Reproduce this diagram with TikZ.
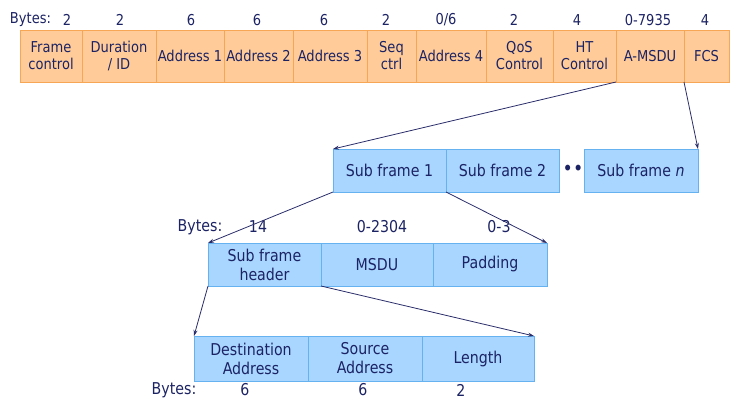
\documentclass[tikz,border=0pt]{standalone}
\usepackage{fontspec}
\setmainfont[FakeStretch=0.87]{DejaVu Sans}
\usepackage{tikz}
\usetikzlibrary{arrows.meta}
\definecolor{txt}{HTML}{1C2364}
\definecolor{macfill}{HTML}{FFCC99}
\definecolor{macline}{HTML}{F7A656}
\definecolor{subfill}{HTML}{A8D6FF}
\definecolor{subline}{HTML}{66B2F0}
\definecolor{linkc}{HTML}{2A2D6A}

\begin{document}
\begin{tikzpicture}[x=1pt, y=-1pt,
	font=\fontsize{15}{17}\selectfont, text=txt,
	mac/.style={draw=macline, fill=macfill, line width=0.8pt, inner sep=0pt, outer sep=0pt, align=center, minimum height=52pt},
	sub/.style={draw=subline, fill=subfill, line width=0.8pt, inner sep=0pt, outer sep=0pt, align=center, font=\fontsize{16.3}{19}\selectfont},
	bytes/.style={inner sep=0pt},
	lbytes/.style={inner sep=0pt, font=\fontsize{16.3}{19}\selectfont},
	link/.style={draw=linkc, line width=0.8pt, -{Stealth[length=6pt,width=4pt]}}]
	\useasboundingbox (0,0) rectangle (751,417);
	% MAC frame
	\node (fc) at (51,56) [mac, minimum width=62pt] {Frame\\control};
	\node (dur) at (119,56) [mac, minimum width=74pt] {Duration\\/ ID};
	\node (a1) at (190,56) [mac, minimum width=68pt] {Address 1};
	\node (a2) at (258.5,56) [mac, minimum width=69pt] {Address 2};
	\node (a3) at (330,56) [mac, minimum width=74pt] {Address 3};
	\node (seq) at (391.5,56) [mac, minimum width=49pt] {Seq\\ctrl};
	\node (a4) at (451,56) [mac, minimum width=70pt] {Address 4};
	\node (qos) at (519.5,56) [mac, minimum width=67pt] {QoS\\Control};
	\node (ht) at (584.5,56) [mac, minimum width=63pt] {HT\\Control};
	\node (amsdu) at (650,56) [mac, minimum width=68pt] {A-MSDU};
	\node (fcs) at (706.5,56) [mac, minimum width=45pt] {FCS};
		\node (b0) at (30.5,20) [bytes] {Bytes:};
		\node (b1) at (67,20) [bytes] {2};
		\node (b2) at (120,20) [bytes] {2};
		\node (b3) at (191,20) [bytes] {6};
		\node (b4) at (257,20) [bytes] {6};
		\node (b5) at (324,20) [bytes] {6};
		\node (b6) at (386,20) [bytes] {2};
		\node (b7) at (446,20) [bytes] {0/6};
		\node (b8) at (514,20) [bytes] {2};
		\node (b9) at (577,20) [bytes] {4};
		\node (b10) at (648,20) [bytes] {0-7935};
		\node (b11) at (705,20) [bytes] {4};
	% A-MSDU
	\node (sf1) at (389.5,170.5) [sub, minimum width=113pt, minimum height=43pt] {Sub frame 1};
	\node (sf2) at (502.5,170.5) [sub, minimum width=113pt, minimum height=43pt] {Sub frame 2};
	\node (dots) at (573,170) [bytes, font=\fontsize{20}{20}\selectfont] {••};
	\node (sfn) at (641,170.5) [sub, minimum width=114pt, minimum height=43pt] {Sub frame \textit{n}};
	% sub frame
	\node (sfh) at (264.5,264.5) [sub, minimum width=113pt, minimum height=43pt] {Sub frame\\header};
	\node (msdu) at (377,264.5) [sub, minimum width=112pt, minimum height=43pt] {MSDU};
	\node (pad) at (490,264.5) [sub, minimum width=114pt, minimum height=43pt] {Padding};
		\node (c0) at (200,227) [lbytes] {Bytes:};
		\node (c1) at (258,227) [lbytes] {14};
		\node (c2) at (382,227) [lbytes] {0-2304};
		\node (c3) at (499,227) [lbytes] {0-3};
	% sub frame header
	\node (da) at (251,358.5) [sub, minimum width=114pt, minimum height=45pt] {Destination\\Address};
	\node (sa) at (365,358.5) [sub, minimum width=114pt, minimum height=45pt] {Source\\Address};
	\node (len) at (478,358.5) [sub, minimum width=112pt, minimum height=45pt] {Length};
		\node (d0) at (174,390) [lbytes] {Bytes:};
		\node (d1) at (245,390) [lbytes] {6};
		\node (d2) at (363,390) [lbytes] {6};
		\node (d3) at (461,390) [lbytes] {2};
	\draw[link] (amsdu.south west) to (sf1.north west);
	\draw[link] (fcs.south west) to (sfn.north east);
	\draw[link] (sf1.south west) to (sfh.north west);
	\draw[link] (sf1.south east) to (pad.north east);
	\draw[link] (sfh.south west) to (da.north west);
	\draw[link] (sfh.south east) to (len.north east);
\end{tikzpicture}
\end{document}
